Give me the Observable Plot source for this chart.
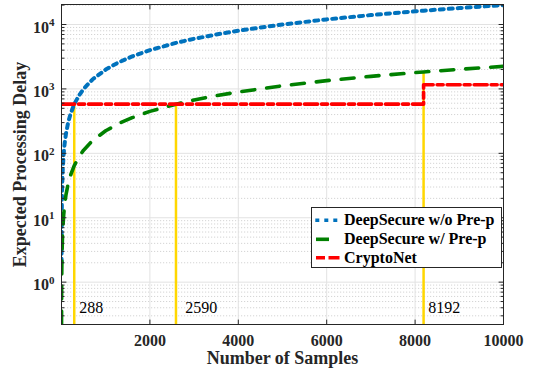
<!DOCTYPE html>
<html><head><meta charset="utf-8">
<script src="https://cdn.jsdelivr.net/npm/d3@7"></script>
<script src="https://cdn.jsdelivr.net/npm/@observablehq/plot@0.6"></script>
<style>
body{margin:0;background:#fff;}
#wrap{position:relative;width:535px;height:375px;font-family:"Liberation Serif","Times New Roman",serif;}
#legend{position:absolute;left:311px;top:207px;width:191px;height:61px;box-sizing:border-box;border:1px solid #262626;background:#fff;}
#legend span{position:absolute;left:32px;font-size:16px;font-weight:bold;line-height:18px;white-space:nowrap;color:#000;}
#legend svg{position:absolute;left:0;top:0;}
</style>
</head><body>
<div id="wrap"></div>
<script>
const nSamples    = [1,2,3,5,7,10,15,20,30,50,70,100,150,200,288,400,500,700,1000,1300,1600,2000,2590,3000,3500,4000,5000,6000,7000,8000,8192,9000,10000];
const delayNoPrep = [2,4,6,10,14,20,30,40,60,100,140,200,300,400,580,800,1000,1400,2000,2600,3200,4000,5180,6000,7000,8000,10000,12000,14000,16000,16400,18000,20000];
const delayPrep   = [0.224,0.45,0.67,1.12,1.57,2.24,3.36,4.48,6.72,11.2,15.7,22.4,33.6,44.8,64.5,89.6,112,157,224,291,358,448,580,672,784,896,1120,1344,1568,1792,1835,2016,2240];
const cryptoSamples = [1, 8192, 8192, 10000];
const cryptoDelay   = [580, 580, 1160, 1160];
const markerSamples = [288, 2590, 8192];
const markerDelay   = [580, 580, 1835];
const markerLabels  = ["288", "2590", "8192"];
const markerLabelX  = [400, 2800, 8300];
const xTicks = [2000, 4000, 6000, 8000, 10000];
const yTicks = [1, 10, 100, 1000, 10000];
const yTickExp = ["0", "1", "2", "3", "4"];
const seriesNames = ["DeepSecure w/o Pre-p", "DeepSecure w/ Pre-p", "CryptoNet"];
const seriesColors = ["#0072BD", "#008000", "#FF0000"];

const yMin = 0.22, yMax = 20450;
const minorY = [];
for (let e = -1; e <= 4; e++) for (let m = 2; m <= 9; m++) { const v = m * 10 ** e; if (v >= yMin && v <= yMax) minorY.push(v); }

const tickShape = {draw(ctx, l) { ctx.moveTo(0, 0); ctx.lineTo(0, -l); }};
const axisColor = "#262626";
const tk = (data, opts) => Plot.vector(data, {anchor: "start", shape: tickShape, stroke: axisColor, strokeWidth: 1, ...opts});

const noPrep = nSamples.map((n, i) => ({n, v: delayNoPrep[i]}));
const prep = nSamples.map((n, i) => ({n, v: delayPrep[i]}));
const crypto = cryptoSamples.map((n, i) => ({n, v: cryptoDelay[i]}));
const markers = markerSamples.map((n, i) => ({n, v: markerDelay[i], label: markerLabels[i], lx: markerLabelX[i]}));

const chart = Plot.plot({
  width: 535, height: 375,
  marginLeft: 61, marginRight: 32, marginTop: 4, marginBottom: 51,
  style: {fontFamily: "Liberation Serif, Times New Roman, serif", background: "#fff"},
  x: {domain: [0, 10000], axis: null},
  y: {type: "log", domain: [yMin, yMax], axis: null},
  marks: [
    Plot.ruleY(minorY, {stroke: "#d4d4d4", strokeDasharray: "1.2,1.8"}),
    Plot.ruleY(yTicks, {stroke: "#e2e2e2", strokeWidth: 1}),
    Plot.ruleX(xTicks.slice(0, -1), {stroke: "#e2e2e2", strokeWidth: 1}),
    Plot.ruleX(markers, {x: "n", y1: yMin, y2: "v", stroke: "#FFD700", strokeWidth: 2.5}),
    Plot.line(noPrep, {x: "n", y: "v", stroke: seriesColors[0], strokeWidth: 4, strokeDasharray: "4,5", clip: true}),
    Plot.line(prep, {x: "n", y: "v", stroke: seriesColors[1], strokeWidth: 3.6, strokeDasharray: "13,12", clip: true}),
    Plot.line(crypto, {x: "n", y: "v", stroke: seriesColors[2], strokeWidth: 3.6, strokeDasharray: "13,4,6,4", clip: true}),
    Plot.frame({stroke: axisColor, strokeWidth: 1}),
    tk(xTicks.slice(0, -1), {x: d => d, frameAnchor: "bottom", rotate: 0, length: 4.5}),
    tk(xTicks.slice(0, -1), {x: d => d, frameAnchor: "top", rotate: 180, length: 4.5}),
    tk(yTicks, {y: d => d, frameAnchor: "left", rotate: 90, length: 4.5}),
    tk(yTicks, {y: d => d, frameAnchor: "right", rotate: -90, length: 4.5}),
    tk(minorY, {y: d => d, frameAnchor: "left", rotate: 90, length: 2.5}),
    tk(minorY, {y: d => d, frameAnchor: "right", rotate: -90, length: 2.5}),
    Plot.text(xTicks, {x: d => d, text: d => String(d), frameAnchor: "bottom", lineAnchor: "middle", dy: 16, fontSize: 16, fontWeight: "bold", fill: "#262626"}),
    Plot.text(yTicks, {y: d => d, text: () => "10", frameAnchor: "left", textAnchor: "end", lineAnchor: "middle", dx: -12.5, dy: 3, fontSize: 16, fontWeight: "bold", fill: "#262626"}),
    Plot.text(yTicks, {y: d => d, text: (d, i) => yTickExp[i], frameAnchor: "left", textAnchor: "start", lineAnchor: "middle", dx: -12.5, dy: -2, fontSize: 11, fontWeight: "bold", fill: "#262626"}),
    Plot.text(markers, {x: "lx", text: "label", frameAnchor: "bottom", lineAnchor: "middle", dy: -16.3, textAnchor: "start", fontSize: 16, fill: "#000"}),
    Plot.text(["Number of Samples"], {frameAnchor: "bottom", textAnchor: "middle", lineAnchor: "middle", dy: 34, fontSize: 18, fontWeight: "bold", fill: "#262626"}),
    Plot.text(["Expected Processing Delay"], {frameAnchor: "left", textAnchor: "middle", lineAnchor: "middle", dx: -41, rotate: -90, fontSize: 18, fontWeight: "bold", fill: "#262626"})
  ]
});

const wrap = document.getElementById("wrap");
wrap.appendChild(chart);

const legend = document.createElement("div");
legend.id = "legend";
const rowY = [12.3, 31.3, 49.7];
const dashes = ["4,5", "13,20", "9,3.5,11,20"];
const lens = [22, 14, 24];
let svg = `<svg width="189" height="59">`;
seriesNames.forEach((s, i) => {
  svg += `<line x1="${i === 0 ? 3.3 : 4}" x2="${(i === 0 ? 3.3 : 4) + lens[i]}" y1="${rowY[i]}" y2="${rowY[i]}" stroke="${seriesColors[i]}" stroke-width="3.6" stroke-dasharray="${dashes[i]}"/>`;
});
svg += `</svg>`;
legend.innerHTML = svg + seriesNames.map((s, i) => `<span style="top:${rowY[i] - 9}px">${s}</span>`).join("");
wrap.appendChild(legend);
</script>
</body></html>
